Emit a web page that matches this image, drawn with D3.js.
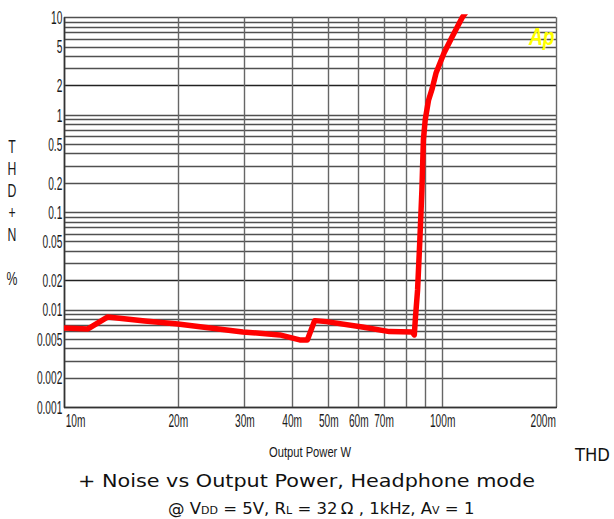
<!DOCTYPE html>
<html><head><meta charset="utf-8">
<script src="https://cdn.jsdelivr.net/npm/d3@7"></script>
<style>
body{margin:0;background:#fff;}
svg{display:block;}
.lab{font-family:"Liberation Sans","Arial",sans-serif;fill:#1a1a1a;}
.cap{font-family:"DejaVu Sans","Open Sans",sans-serif;fill:#111;}
</style></head><body>
<svg id="c" width="614" height="519"></svg>
<script>
// THD+N (%) vs Output Power (W)
const powerW = [0.01, 0.01157, 0.01306, 0.01636, 0.02, 0.0297, 0.0372, 0.0420, 0.0440, 0.0460, 0.0494, 0.0615, 0.0725, 0.0833, 0.0844, 0.0849, 0.0861, 0.0873, 0.0884, 0.0892, 0.0902, 0.0920, 0.0941, 0.0964, 0.1012, 0.1063, 0.1129, 0.116];
const thdN   = [0.00648, 0.00633, 0.0084, 0.00765, 0.00712, 0.0059, 0.00549, 0.00488, 0.00488, 0.0077, 0.00752, 0.00663, 0.00594, 0.00589, 0.00549, 0.00783, 0.0159, 0.0519, 0.169, 0.553, 0.887, 1.40, 1.85, 2.70, 4.33, 6.31, 9.9, 11.5];
const yTickLabels = ["10","5","2","1","0.5","0.2","0.1","0.05","0.02","0.01","0.005","0.002","0.001"];
const yTickValues = [10,5,2,1,0.5,0.2,0.1,0.05,0.02,0.01,0.005,0.002,0.001];
const xTickLabels = ["10m","20m","30m","40m","50m","60m","70m","100m","200m"];
const xTickValues = [0.01,0.02,0.03,0.04,0.05,0.06,0.07,0.1,0.2];
const xGridValues = [0.01,0.02,0.03,0.04,0.05,0.06,0.07,0.08,0.09,0.1,0.2];
const yAxisTitle = ["T","H","D","+","N","","%"];
const xAxisTitle = "Output Power W";

const svg = d3.select("#c");
const L=64, R=556, T=17.3, B=407;
const x = d3.scaleLog().domain([0.01,0.2]).range([L,R]);
const y = d3.scaleLog().domain([0.001,10]).range([B,T]);
const SX = 0.58; // condensed look
const FS = 17.5;

// y grid: every 1..9 multiple per decade
const yGrid = [];
[0.001,0.01,0.1,1].forEach(d=>{for(let k=1;k<=9;k++) yGrid.push(d*k);});
yGrid.push(10);

const g = svg.append("g");
g.selectAll("line.yg").data(yGrid).join("line")
 .attr("x1",L).attr("x2",R)
 .attr("y1",d=>Math.round(y(d))+0.5).attr("y2",d=>Math.round(y(d))+0.5)
 .attr("stroke",d=>(Math.abs(d-2)<1e-9||Math.abs(d-0.02)<1e-9)?"#222":"#505050").attr("stroke-width",1.4);
g.selectAll("line.xg").data(xGridValues).join("line")
 .attr("y1",T).attr("y2",B)
 .attr("x1",d=>Math.round(x(d))+0.5).attr("x2",d=>Math.round(x(d))+0.5)
 .attr("stroke","#666").attr("stroke-width",1.4);

// axes frame
g.append("line").attr("x1",L+0.5).attr("x2",L+0.5).attr("y1",T).attr("y2",B+1).attr("stroke","#333").attr("stroke-width",1.6);
g.append("line").attr("x1",L).attr("x2",R+1).attr("y1",B+0.5).attr("y2",B+0.5).attr("stroke","#333").attr("stroke-width",1.6);

// y axis tick labels
const yAxis = d3.axisLeft(y).tickValues(yTickValues).tickFormat((d,i)=>yTickLabels[i]).tickSize(0).tickPadding(3);
const ya = svg.append("g").attr("transform",`translate(${L},0)`).call(yAxis);
ya.select(".domain").remove();
ya.selectAll("text").attr("class","lab").attr("font-size",FS).attr("dy","0.36em").attr("transform",`scale(${SX},1)`);

// x axis tick labels
const xAxis = d3.axisBottom(x).tickValues(xTickValues).tickFormat((d,i)=>xTickLabels[i]).tickSize(0).tickPadding(8);
const xa = svg.append("g").attr("transform",`translate(0,${B})`).call(xAxis);
xa.select(".domain").remove();
xa.selectAll("text").attr("class","lab").attr("font-size",FS)
 .attr("text-anchor",(d,i)=>i===0?"start":(i===xTickValues.length-1?"end":"middle"))
 .attr("x",(d,i)=>i===0?2:(i===xTickValues.length-1?-1:0))
 .attr("transform",`scale(${SX},1)`);

// y axis title
svg.selectAll("text.yt").data(yAxisTitle).join("text").attr("class","lab")
 .attr("transform",(d,i)=>`translate(12,${153+i*22}) scale(0.7,1)`).attr("text-anchor","middle").attr("font-size",FS).text(d=>d);

// x axis title
svg.append("text").attr("class","lab").attr("x",269).attr("y",457).attr("font-size",15)
 .attr("textLength",82).attr("lengthAdjust","spacingAndGlyphs").text(xAxisTitle);

// curve
svg.append("clipPath").attr("id","pc").append("rect").attr("x",L).attr("y",T-3).attr("width",R-L).attr("height",B-T+3);
svg.append("path").datum(powerW.map((p,i)=>[p,thdN[i]]))
 .attr("clip-path","url(#pc)")
 .attr("fill","none").attr("stroke","#ff0000").attr("stroke-width",5.5).attr("stroke-linejoin","round").attr("stroke-linecap","round")
 .attr("d",d3.line().x(d=>x(d[0])).y(d=>y(d[1])).curve(d3.curveLinear));

// Ap logo
svg.append("text").attr("transform","translate(529,45) scale(0.8,1)").attr("font-family","Liberation Sans, Arial, sans-serif")
 .attr("font-weight","bold").attr("font-style","italic").attr("font-size",24).attr("fill","#ffff00").text("Ap");

// caption
svg.append("text").attr("class","cap").attr("x",575).attr("y",461).attr("font-size",17)
 .attr("textLength",35).attr("lengthAdjust","spacingAndGlyphs").text("THD");
svg.append("text").attr("class","cap").attr("x",78).attr("y",487).attr("font-size",17)
 .attr("textLength",457).attr("lengthAdjust","spacingAndGlyphs").text("+ Noise vs Output Power, Headphone mode");
const c3 = svg.append("text").attr("class","cap").attr("x",168).attr("y",514).attr("font-size",16.5);
c3.append("tspan").text("@ V");
c3.append("tspan").attr("font-size",11).text("DD");
c3.append("tspan").text(" = 5V, R");
c3.append("tspan").attr("font-size",11).text("L");
c3.append("tspan").text(" = 32\u2009\u03A9 , 1kHz, A");
c3.append("tspan").attr("font-size",11).text("V");
c3.append("tspan").text(" = 1");
</script>
</body></html>
